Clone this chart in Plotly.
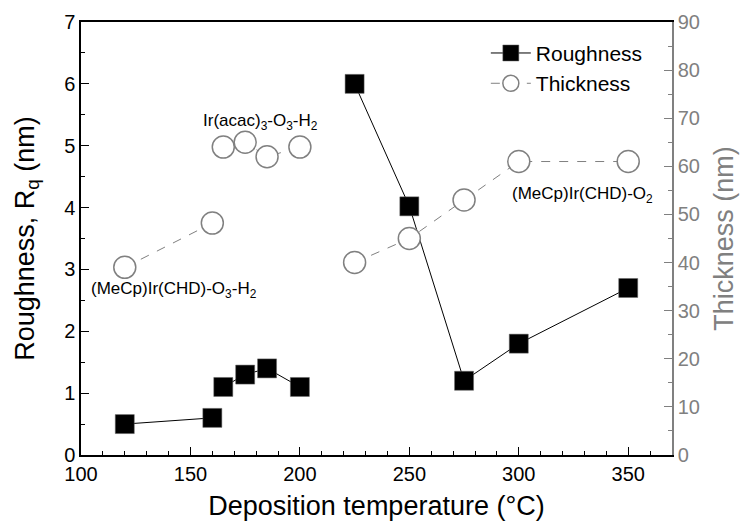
import plotly.graph_objects as go

# Groups: (MeCp)Ir(CHD)-O3-H2, Ir(acac)3-O3-H2, (MeCp)Ir(CHD)-O2
temp_groups = [[120, 160], [165, 175, 185, 200], [225, 250, 275, 300, 350]]
rough_groups = [[0.5, 0.6], [1.1, 1.3, 1.4, 1.1], [6.0, 4.02, 1.2, 1.8, 2.7]]
thick_groups = [[39, 48.2], [64, 65, 62, 64], [40, 45, 53, 61, 61]]

def join(groups):
    out = []
    for i, g in enumerate(groups):
        if i:
            out.append(None)
        out.extend(g)
    return out

x_all = join(temp_groups)
rough_all = join(rough_groups)
thick_all = join(thick_groups)

FONT = "Liberation Sans, Arial, sans-serif"
GRAY = "#808080"

fig = go.Figure()
fig.add_trace(go.Scatter(
    x=x_all, y=thick_all, name="Thickness", yaxis="y2", mode="lines+markers",
    line=dict(color=GRAY, width=1, dash="dash"),
    marker=dict(symbol="circle", size=22, color="white", line=dict(color=GRAY, width=1.5)),
    connectgaps=False,
))
fig.add_trace(go.Scatter(
    x=x_all, y=rough_all, name="Roughness", mode="lines+markers",
    line=dict(color="black", width=1),
    marker=dict(symbol="square", size=19, color="black", line=dict(color="#666", width=0.5)),
    connectgaps=False,
))

fig.update_layout(
    width=746, height=530,
    margin=dict(l=81, r=74, t=22, b=75),
    plot_bgcolor="white", paper_bgcolor="white",
    font=dict(family=FONT, size=20, color="black"),
    showlegend=True,
    legend=dict(x=0.685, y=0.975, xanchor="left", yanchor="top",
                bgcolor="rgba(0,0,0,0)", font=dict(size=21, family=FONT),
                traceorder="reversed", tracegroupgap=0, itemwidth=40),
    xaxis=dict(
        range=[100, 370], tick0=100, dtick=50, ticks="inside", ticklen=8,
        tickcolor="black", showline=True, linecolor="black", linewidth=1.5,
        mirror=True, showgrid=False, zeroline=False,
        tickfont=dict(size=20),
        minor=dict(dtick=10, ticks="inside", ticklen=4, tickcolor="black", showgrid=False),
        title=dict(text="Deposition temperature (°C)", font=dict(size=27), standoff=12),
    ),
    yaxis=dict(
        range=[0, 7], dtick=1, ticks="inside", ticklen=8, tickcolor="black",
        showline=True, linecolor="black", linewidth=1.5, showgrid=False, zeroline=False,
        tickfont=dict(size=20),
        minor=dict(dtick=0.5, ticks="inside", ticklen=4, tickcolor="black", showgrid=False),
        title=dict(text="Roughness, R<sub>q</sub> (nm)", font=dict(size=27), standoff=22),
    ),
    yaxis2=dict(
        range=[0, 90], dtick=10, overlaying="y", side="right", ticks="inside",
        ticklen=8, tickcolor=GRAY, showline=True, linecolor=GRAY, linewidth=1.5,
        showgrid=False, zeroline=False,
        tickfont=dict(size=20, color=GRAY),
        minor=dict(dtick=5, ticks="inside", ticklen=4, tickcolor=GRAY, showgrid=False),
        title=dict(text="Thickness (nm)", font=dict(size=27, color=GRAY), standoff=15),
    ),
    annotations=[
        dict(x=182, y=5.39, xref="x", yref="y", showarrow=False,
             text="Ir(acac)<sub>3</sub>-O<sub>3</sub>-H<sub>2</sub>", font=dict(size=17)),
        dict(x=142.5, y=2.67, xref="x", yref="y", showarrow=False,
             text="(MeCp)Ir(CHD)-O<sub>3</sub>-H<sub>2</sub>", font=dict(size=17)),
        dict(x=329, y=4.2, xref="x", yref="y", showarrow=False,
             text="(MeCp)Ir(CHD)-O<sub>2</sub>", font=dict(size=17)),
    ],
)

fig.write_html("out.html")
